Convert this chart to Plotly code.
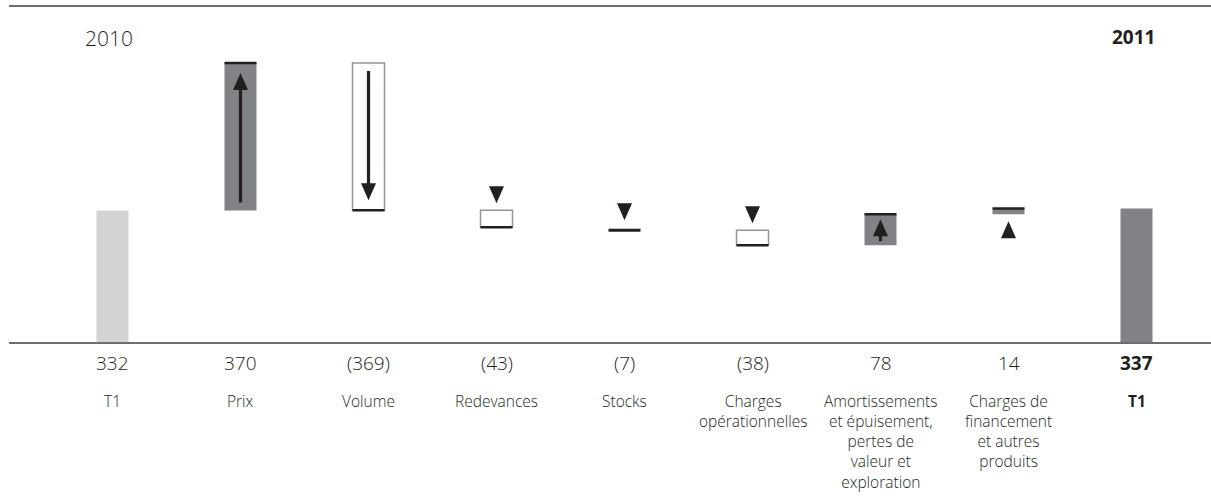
import plotly.graph_objects as go

# ---------------- data ----------------
categories = [
    "T1",
    "Prix",
    "Volume",
    "Redevances",
    "Stocks",
    "Charges<br>opérationnelles",
    "Amortissements<br>et épuisement,<br>pertes de<br>valeur et<br>exploration",
    "Charges de<br>financement<br>et autres<br>produits",
    "<b>T1</b>",
]
values = [332, 370, -369, -43, -7, -38, 78, 14, 337]
value_labels = ["332", "370", "(369)", "(43)", "(7)", "(38)", "78", "14", "<b>337</b>"]
year_start = "2010"
year_end = "<b>2011</b>"

# ---------------- style ----------------
W, H = 1211, 498
M_B = 155
PLOT_H = H - M_B
Y_MAX = 860
X_STEP_PX = 128.0
X0_PX = 112.5
x_lo = -X0_PX / X_STEP_PX
x_hi = (W - X0_PX) / X_STEP_PX
UY = Y_MAX / PLOT_H          # data units per pixel (vertical)
UX = (x_hi - x_lo) / W       # data units per pixel (horizontal)
BAR_W = 0.25

LIGHT = "#d1d3d4"
DARK = "#808285"
OUTLINE = "#939598"
BLACK = "#231f20"
RULE = "#6d6e71"
FONT = "Open Sans"

n = len(values)
xs = list(range(n))
bases, heights, fills, lcols, lwidths = [], [], [], [], []
shapes = []
cum = 0


def arrow_path(xc, y_tail, y_tip, head_h, head_hw, shaft_hw):
    s = 1 if y_tip > y_tail else -1
    hb = y_tip - s * head_h * UY
    pts = [
        (xc - shaft_hw * UX, y_tail),
        (xc - shaft_hw * UX, hb),
        (xc - head_hw * UX, hb),
        (xc, y_tip),
        (xc + head_hw * UX, hb),
        (xc + shaft_hw * UX, hb),
        (xc + shaft_hw * UX, y_tail),
    ]
    return "M " + " L ".join(f"{a},{b}" for a, b in pts) + " Z"


def tri_path(xc, y_tip, y_base, hw):
    return f"M {xc - hw * UX},{y_base} L {xc + hw * UX},{y_base} L {xc},{y_tip} Z"


for i, v in enumerate(values):
    if i == 0 or i == n - 1:
        bases.append(0)
        heights.append(v)
        fills.append(LIGHT if i == 0 else DARK)
        lcols.append("rgba(0,0,0,0)")
        lwidths.append(0)
        cum = v
        continue
    start = cum
    end = cum + v
    cum = end
    bases.append(min(start, end))
    heights.append(abs(v))
    h_px = abs(v) / UY
    if v > 0:
        fills.append(DARK)
        lcols.append("rgba(0,0,0,0)")
        lwidths.append(0)
    else:
        fills.append("white")
        lcols.append(OUTLINE if h_px > 5 else "rgba(0,0,0,0)")
        lwidths.append(1.5 if h_px > 5 else 0)
    # end marker line
    shapes.append(dict(type="line", xref="x", yref="y",
                       x0=i - BAR_W / 2, x1=i + BAR_W / 2, y0=end, y1=end,
                       line=dict(color=BLACK, width=2.5 if h_px > 5 else 3)))
    s = 1 if v > 0 else -1
    if h_px > 25:
        m1, m2 = (8, 10) if h_px > 60 else (4, 5)
        tail = start + s * m1 * UY
        tip = end - s * m2 * UY
        shapes.append(dict(type="path", xref="x", yref="y",
                           path=arrow_path(i, tail, tip, 17, 7.5, 1.6),
                           fillcolor=BLACK, line=dict(width=0)))
    else:
        tip = start - s * 7 * UY
        base = start - s * 24 * UY
        shapes.append(dict(type="path", xref="x", yref="y",
                           path=tri_path(i, tip, base, 7.5),
                           fillcolor=BLACK, line=dict(width=0)))

fig = go.Figure(go.Bar(
    x=xs, y=heights, base=bases, width=BAR_W,
    marker=dict(color=fills, line=dict(color=lcols, width=lwidths)),
    hoverinfo="skip",
))

# rules
shapes.append(dict(type="line", xref="paper", yref="paper",
                   x0=9 / W, x1=1, y0=0, y1=0, line=dict(color=RULE, width=2)))
shapes.append(dict(type="line", xref="paper", yref="paper",
                   x0=9 / W, x1=1, y0=(PLOT_H - 6) / PLOT_H, y1=(PLOT_H - 6) / PLOT_H,
                   line=dict(color=RULE, width=2)))

ann = []
for i in range(n):
    ann.append(dict(x=i, y=0, xref="x", yref="paper", text=value_labels[i],
                    showarrow=False, yanchor="middle", yshift=-20,
                    font=dict(family=FONT, size=19, color=BLACK, weight=300)))
    ann.append(dict(x=i, y=0, xref="x", yref="paper", text=categories[i],
                    showarrow=False, yanchor="top", yshift=-45, align="center",
                    font=dict(family=FONT, size=15.5, color=BLACK, weight=300)))
ann.append(dict(x=83 / W, y=1, xref="paper", yref="paper", text=year_start,
                showarrow=False, xanchor="left", yanchor="middle", yshift=-38,
                font=dict(family=FONT, size=21, color=BLACK, weight=300)))
ann.append(dict(x=1157 / W, y=1, xref="paper", yref="paper", text=year_end,
                showarrow=False, xanchor="right", yanchor="middle", yshift=-37,
                font=dict(family=FONT, size=19, color=BLACK)))

fig.update_layout(
    width=W, height=H,
    margin=dict(l=0, r=0, t=0, b=M_B),
    paper_bgcolor="white", plot_bgcolor="white",
    showlegend=False,
    xaxis=dict(range=[x_lo, x_hi], visible=False, fixedrange=True),
    yaxis=dict(range=[0, Y_MAX], visible=False, fixedrange=True),
    shapes=shapes,
    annotations=ann,
)

fig.write_html("out.html", config={"displayModeBar": False})
